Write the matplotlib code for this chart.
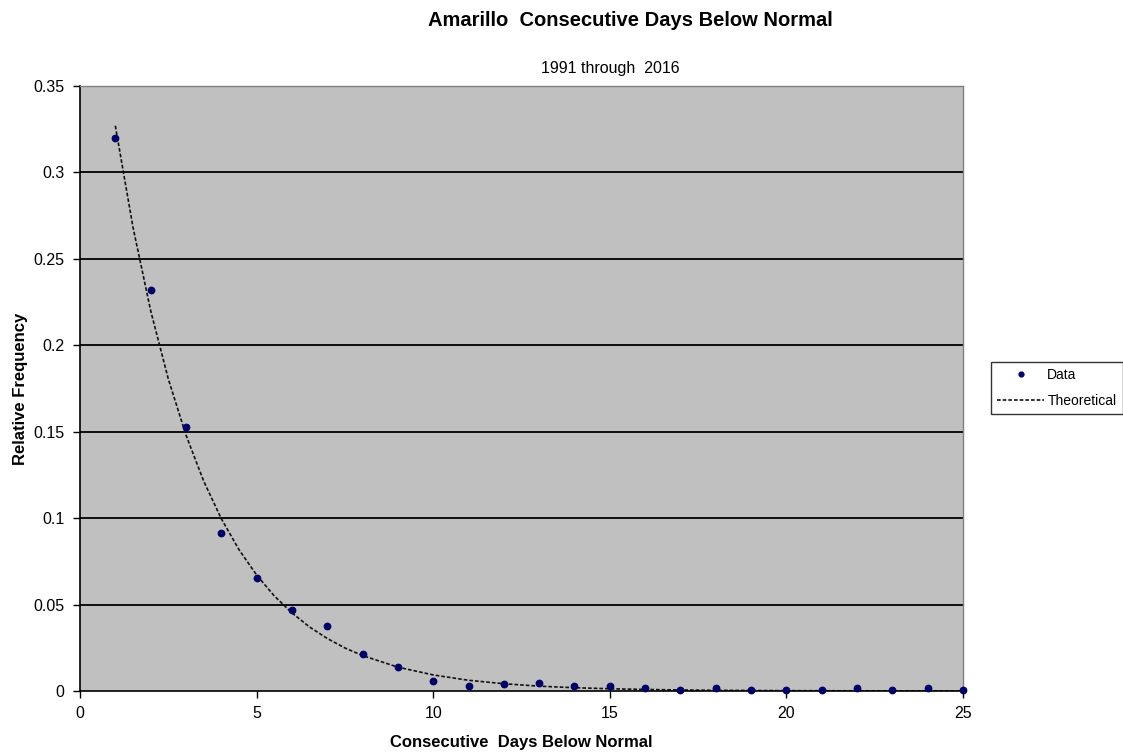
"""Amarillo consecutive days below normal: observed vs theoretical frequency."""

import matplotlib
matplotlib.use("Agg")
import matplotlib.pyplot as plt

plt.rcParams["font.family"] = ["Liberation Sans", "DejaVu Sans"]

# observed relative frequencies, runs of 1..25 days
days = list(range(1, 26))
observed = [0.320, 0.232, 0.153, 0.0912, 0.0652, 0.0469, 0.0378, 0.0214, 0.0141, 0.0060,
            0.0029, 0.0039, 0.0044, 0.0030, 0.0030, 0.0015, 0.0003, 0.0016, 0.0003, 0.0003,
            0.0003, 0.0015, 0.0003, 0.0015, 0.0003]

# theoretical curve
theory_x = [1, 1.5, 2, 2.5, 3, 3.5, 4, 4.5, 5, 5.5, 6, 6.5, 7, 7.5, 8, 9, 10, 11, 12,
            13, 14, 15, 16, 17, 18, 20, 22, 25]
theory_y = [0.327, 0.2683, 0.2201, 0.1805, 0.1481, 0.1215, 0.0997, 0.0818, 0.0671, 0.0550,
            0.0452, 0.0370, 0.0304, 0.0249, 0.0205, 0.0138, 0.0093, 0.0062, 0.0042,
            0.0028, 0.0019, 0.0013, 0.0009, 0.0006, 0.0004, 0.0002, 0.0001, 0.0]

y_ticks = [0, 0.05, 0.1, 0.15, 0.2, 0.25, 0.3, 0.35]
y_labels = ["0", "0.05", "0.1", "0.15", "0.2", "0.25", "0.3", "0.35"]
x_ticks = [0, 5, 10, 15, 20, 25]

W, H = 1123, 755
fig = plt.figure(figsize=(W / 100, H / 100), dpi=100)
ax = fig.add_axes([80 / W, 1 - 691 / H, 883 / W, 605 / H])
ax.set_facecolor("#c0c0c0")

for yv in y_ticks[1:-1]:
    ax.axhline(yv, color="black", lw=1.3, zorder=1)

ax.plot(theory_x, theory_y, color="#111111", lw=1.2, ls=(0, (2.2, 1.2)),
        label="Theoretical", zorder=2)
ax.plot(days, observed, ls="none", marker="o", ms=4.6, color="#000066",
        label="Data", zorder=3, clip_on=False)

ax.set_xlim(0, 25)
ax.set_ylim(0, 0.35)
ax.set_xticks(x_ticks)
ax.set_yticks(y_ticks)
ax.set_yticklabels(y_labels)
ax.tick_params(direction="out", length=5, width=1, labelsize=11.5, colors="black")
ax.tick_params(axis="x", pad=6)
ax.tick_params(axis="y", pad=6)

for side in ("left", "bottom"):
    ax.spines[side].set_color("black")
    ax.spines[side].set_linewidth(1.2)
for side in ("right", "top"):
    ax.spines[side].set_color("#808080")
    ax.spines[side].set_linewidth(1)

ax.set_xlabel("Consecutive  Days Below Normal", fontsize=12, fontweight="bold", va="center")
ax.xaxis.set_label_coords(0.5, (691 - 743) / 605)
ax.set_ylabel("Relative Frequency", fontsize=12, fontweight="bold", va="center")
ax.yaxis.set_label_coords(-60 / 883, 0.5)

fig.text(630 / W, 1 - 21 / H, "Amarillo  Consecutive Days Below Normal",
         ha="center", va="center", fontsize=14.5, fontweight="bold")
fig.text(610 / W, 1 - 68 / H, "1991 through  2016", ha="center", va="center", fontsize=11.5)

handles, labels = ax.get_legend_handles_labels()
leg = fig.legend(handles[::-1], labels[::-1], loc="upper left",
                 bbox_to_anchor=(991 / W, 1 - 362 / H), fontsize=10,
                 frameon=True, fancybox=False, edgecolor="black", handlelength=3.4,
                 borderpad=0.45, labelspacing=0.85, handletextpad=0.2, borderaxespad=0,
                 markerscale=0.75)
leg.get_frame().set_linewidth(1)

fig.savefig("out.png", dpi=100, facecolor="white")
